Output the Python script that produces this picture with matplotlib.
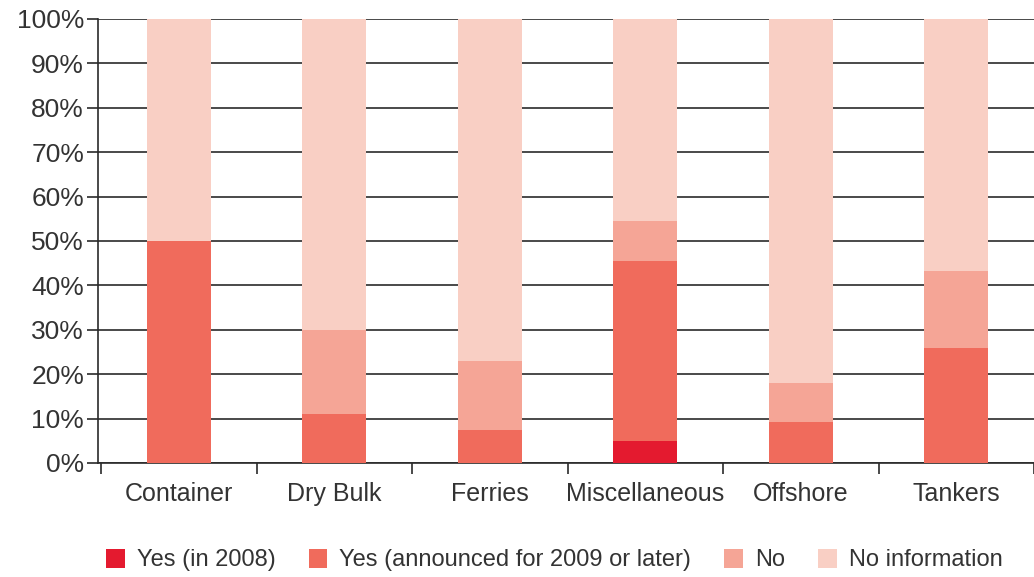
import matplotlib
matplotlib.use("Agg")
import matplotlib.pyplot as plt
import numpy as np

plt.rcParams['font.family'] = ['Liberation Sans', 'DejaVu Sans']

categories = ['Container', 'Dry Bulk', 'Ferries', 'Miscellaneous', 'Offshore', 'Tankers']
yes_2008 = [0, 0, 0, 5, 0, 0]
yes_later = [50, 11, 7.5, 40.5, 9.2, 26]
no = [0, 19, 15.5, 9, 8.9, 17.3]
no_info = [50, 70, 77, 45.5, 81.9, 56.7]

labels = ['Yes (in 2008)', 'Yes (announced for 2009 or later)', 'No', 'No information']
colors = ['#E41A2F', '#F06B5C', '#F5A596', '#F9CFC4']

fig = plt.figure(figsize=(10.34, 5.77), dpi=100)
ax = fig.add_axes([98 / 1034, 1 - 463 / 577, 1 - 98 / 1034, (463 - 19) / 577])

x = np.arange(len(categories))
bottom = np.zeros(len(categories))
handles = []
for vals, c, lab in zip([yes_2008, yes_later, no, no_info], colors, labels):
    b = ax.bar(x, vals, width=0.41, bottom=bottom, color=c, label=lab, zorder=3)
    handles.append(b)
    bottom += np.array(vals)

ax.set_ylim(0, 100)
ax.set_xlim(-0.52, 5.45)
ax.set_yticks(np.arange(0, 101, 10))
ax.set_yticklabels([f'{v}%' for v in range(0, 101, 10)])
ax.yaxis.grid(True, color='#2a2a2a', lw=1.2, zorder=0)
ax.set_axisbelow(True)

ax.set_xticks(x)
ax.set_xticklabels(categories)
ax.set_xticks(np.arange(-0.5, 6, 1), minor=True)
ax.tick_params(axis='x', which='major', length=0, pad=14, labelsize=18, labelcolor='#333333')
ax.tick_params(axis='x', which='minor', length=8, width=1.2, color='#2a2a2a', direction='out')
ax.tick_params(axis='y', length=8, width=1.2, color='#2a2a2a', pad=2, labelsize=19, labelcolor='#333333')

for s in ['top', 'right']:
    ax.spines[s].set_visible(False)
for s in ['left', 'bottom']:
    ax.spines[s].set_color('#2a2a2a')
    ax.spines[s].set_linewidth(1.2)

fig.legend(handles=handles, labels=labels, loc='center', bbox_to_anchor=(0.536, 1 - 560 / 577),
           ncol=4, frameon=False, fontsize=17, handlelength=0.8, handleheight=0.9,
           handletextpad=0.5, columnspacing=1.4, labelcolor='#333333')

fig.savefig('out.png', dpi=100)
